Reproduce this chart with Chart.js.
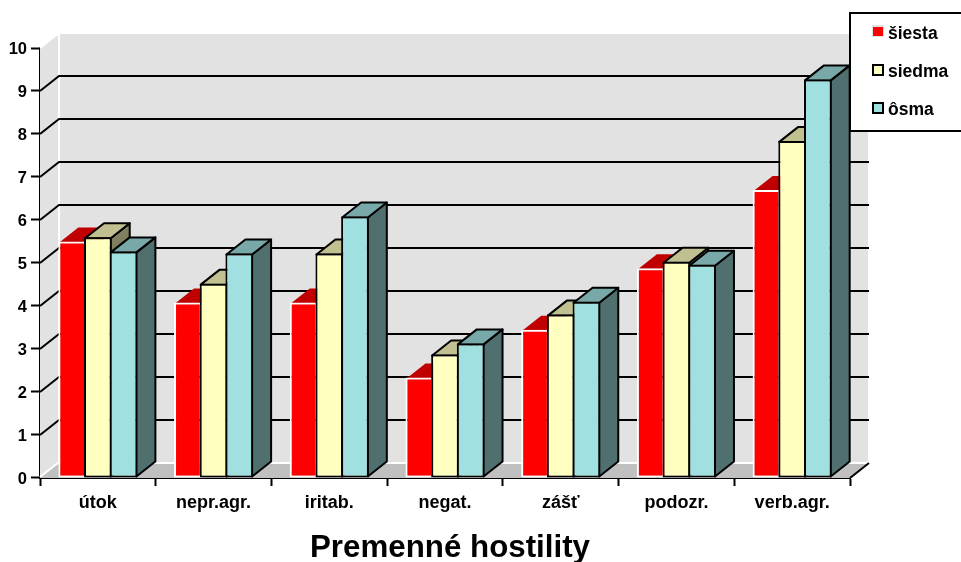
<!DOCTYPE html>
<html>
<head>
<meta charset="utf-8">
<title>Premenné hostility</title>
<script src="https://cdn.jsdelivr.net/npm/chart.js@4"></script>
<style>
  html, body { margin: 0; padding: 0; background: #fff; overflow: hidden; }
  canvas { display: block; }
</style>
</head>
<body>
<canvas id="chart" width="961" height="562"></canvas>
<script>
const categories = ['útok', 'nepr.agr.', 'iritab.', 'negat.', 'zášť', 'podozr.', 'verb.agr.'];
const seriesNames = ['šiesta', 'siedma', 'ôsma'];
const siesta = [5.5, 4.08, 4.08, 2.34, 3.45, 4.88, 6.7];
const siedma = [5.6, 4.52, 5.22, 2.87, 3.8, 5.03, 7.84];
const osma = [5.27, 5.22, 6.08, 3.13, 4.1, 4.96, 9.27];
const axisTitle = 'Premenné hostility';

const frontColors = ['#ff0000', '#ffffc0', '#a0e0e0'];
const topColors = ['#c00000', '#c0c090', '#78a8a8'];
const sideColors = ['#800000', '#808060', '#507070'];
const borderColors = ['#ffffff', '#000000', '#000000'];

const DEPTH_X = 19;
const DEPTH_Y = 15;
const FONT = '"Liberation Sans", Arial, sans-serif';

function quad(ctx, pts, fill, stroke, width) {
    ctx.beginPath();
    ctx.moveTo(pts[0][0], pts[0][1]);
    for (let i = 1; i < pts.length; i++) ctx.lineTo(pts[i][0], pts[i][1]);
    ctx.closePath();
    ctx.fillStyle = fill;
    ctx.fill();
    if (stroke) {
        ctx.strokeStyle = stroke;
        ctx.lineWidth = width;
        ctx.lineJoin = 'round';
        ctx.stroke();
    }
}

function drawWalls(chart) {
    const ctx = chart.ctx;
    const a = chart.chartArea;
    const y = chart.scales.y;
    const l = a.left, r = a.right, t = a.top, b = a.bottom;
    const dx = DEPTH_X, dy = DEPTH_Y;
    ctx.save();
    quad(ctx, [[l, t], [l + dx, t - dy], [l + dx, b - dy], [l, b]], '#e2e2e2');
    quad(ctx, [[l + dx, t - dy], [r + dx, t - dy], [r + dx, b - dy], [l + dx, b - dy]], '#e2e2e2');
    quad(ctx, [[l, b], [l + dx, b - dy], [r + dx, b - dy], [r, b]], '#c0c0c0');

    ctx.strokeStyle = '#ffffff';
    ctx.lineWidth = 2;
    ctx.beginPath();
    ctx.moveTo(l + dx, b - dy);
    ctx.lineTo(l + dx, t - dy);
    ctx.lineTo(r + dx, t - dy);
    ctx.lineTo(r + dx, b - dy);
    ctx.moveTo(l + dx, b - dy);
    ctx.lineTo(r + dx, b - dy);
    ctx.moveTo(l, t);
    ctx.lineTo(l + dx, t - dy);
    ctx.moveTo(l, b - 1);
    ctx.lineTo(l + dx, b - dy - 1);
    ctx.stroke();

    ctx.strokeStyle = '#000000';
    ctx.beginPath();
    for (let v = 1; v < 10; v++) {
        const py = Math.round(y.getPixelForValue(v));
        ctx.moveTo(l, py);
        ctx.lineTo(l + dx, py - dy);
        ctx.lineTo(r + dx, py - dy);
    }
    ctx.moveTo(r, b);
    ctx.lineTo(r + dx, b - dy);
    ctx.stroke();
    ctx.restore();
}

// side and top of each bar go under its front face
function drawFaces(chart, i) {
    const ctx = chart.ctx;
    const stroke = i === 0 ? null : '#000000';
    ctx.save();
    chart.getDatasetMeta(i).data.forEach(bar => {
        const p = bar.getProps(['x', 'y', 'base', 'width'], true);
        const x0 = p.x - p.width / 2 + 1;
        const x1 = p.x + p.width / 2 - 1;
        const yt = p.y + 1;
        const yb = p.base - 1;
        quad(ctx, [[x1, yt], [x1 + DEPTH_X, yt - DEPTH_Y], [x1 + DEPTH_X, yb - DEPTH_Y], [x1, yb]], sideColors[i], stroke, 2);
        quad(ctx, [[x0, yt], [x0 + DEPTH_X, yt - DEPTH_Y], [x1 + DEPTH_X, yt - DEPTH_Y], [x1, yt]], topColors[i], stroke, 2);
    });
    ctx.restore();
}

function drawLegend(chart) {
    const ctx = chart.ctx;
    ctx.save();
    ctx.fillStyle = '#ffffff';
    ctx.fillRect(850, 13, 113, 118);
    ctx.strokeStyle = '#000000';
    ctx.lineWidth = 2;
    ctx.strokeRect(850, 13, 113, 118);
    ctx.font = 'bold 17.5px ' + FONT;
    ctx.textBaseline = 'middle';
    ctx.textAlign = 'left';
    seriesNames.forEach((name, i) => {
        const cy = 32 + i * 38;
        if (i === 0) {
            ctx.fillStyle = '#e2e2e2';
            ctx.fillRect(872, cy - 7, 12, 12);
            ctx.fillStyle = frontColors[0];
            ctx.fillRect(873, cy - 5, 10, 9);
        } else {
            ctx.fillStyle = frontColors[i];
            ctx.fillRect(873, cy - 5, 10, 10);
            ctx.strokeRect(873, cy - 5, 10, 10);
        }
        ctx.fillStyle = '#000000';
        ctx.fillText(name, 888, cy + 2);
    });
    ctx.restore();
}

const view3d = {
    id: 'view3d',
    afterLayout(chart) {
        // title is centred on the plot with its depth, not on the page
        chart.titleBlock.right = 900;
    },
    beforeDatasetsDraw(chart) {
        drawWalls(chart);
        // front series first, each later one overlaps the previous side face
        chart.data.datasets.forEach((ds, i) => {
            drawFaces(chart, i);
            chart.getDatasetMeta(i).controller.draw();
        });
        return false;
    },
    afterDraw: drawLegend
};

new Chart(document.getElementById('chart'), {
    type: 'bar',
    data: {
        labels: categories,
        datasets: [siesta, siedma, osma].map((values, i) => ({
            label: seriesNames[i],
            data: values,
            backgroundColor: frontColors[i],
            borderColor: borderColors[i],
            borderWidth: 2,
            borderSkipped: false,
            categoryPercentage: 0.666,
            barPercentage: 1.078
        }))
    },
    options: {
        responsive: false,
        animation: false,
        layout: { padding: { top: 48, right: 111, bottom: 0, left: 0 } },
        plugins: {
            legend: { display: false },
            tooltip: { enabled: false },
            title: {
                display: true,
                text: axisTitle,
                position: 'bottom',
                color: '#000',
                padding: 0,
                font: { family: FONT, size: 31.3, weight: 'bold', lineHeight: 0.85 }
            }
        },
        scales: {
            x: {
                afterFit(scale) { scale.height = 57.4; },
                grid: { drawOnChartArea: false, tickLength: 8, tickColor: '#000', tickWidth: 2 },
                border: { color: '#000', width: 2 },
                ticks: { color: '#000', padding: 6, maxRotation: 0, font: { family: FONT, size: 18, weight: 'bold' } }
            },
            y: {
                min: 0,
                max: 10,
                afterFit(scale) { scale.width = 40; },
                grid: { drawOnChartArea: false, tickLength: 9, tickColor: '#000', tickWidth: 2 },
                border: { color: '#000', width: 2 },
                ticks: { stepSize: 1, color: '#000', padding: 4, labelOffset: 1.5, font: { family: FONT, size: 16.5, weight: 'bold' } }
            }
        }
    },
    plugins: [view3d]
});
</script>
</body>
</html>
